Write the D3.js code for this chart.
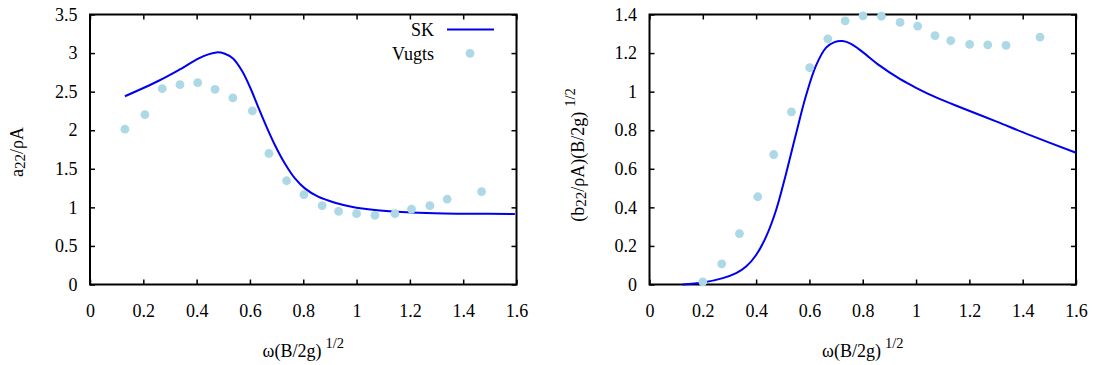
<!DOCTYPE html>
<html>
<head>
<meta charset="utf-8">
<script src="https://cdn.jsdelivr.net/npm/d3@7"></script>
<style>
  html, body { margin: 0; padding: 0; background: #fff; }
  svg text { font-family: "Liberation Serif", "Times New Roman", serif; fill: #000; }
</style>
</head>
<body>
<svg id="chart" width="1095" height="365"></svg>
<script>
// Added mass a22/ρA — SK strip theory curve
const a22SkX = [0.131, 0.256, 0.331, 0.406, 0.444, 0.475, 0.506, 0.5375, 0.569, 0.600, 0.631, 0.6625, 0.694, 0.731, 0.769, 0.806, 0.856, 0.919, 0.981, 1.069, 1.169, 1.294, 1.419, 1.594];
const a22SkY = [2.44, 2.638, 2.776, 2.927, 2.983, 3.009, 2.991, 2.927, 2.776, 2.56, 2.30, 2.043, 1.806, 1.569, 1.375, 1.246, 1.138, 1.06, 1.009, 0.966, 0.94, 0.922, 0.918, 0.914];
// Added mass — Vugts experiments
const a22VugtsX = [0.131, 0.206, 0.271, 0.3375, 0.404, 0.469, 0.536, 0.609, 0.671, 0.7375, 0.8025, 0.871, 0.9325, 1.0, 1.069, 1.144, 1.206, 1.275, 1.34, 1.469];
const a22VugtsY = [2.013, 2.203, 2.539, 2.59, 2.616, 2.53, 2.418, 2.25, 1.698, 1.345, 1.164, 1.022, 0.948, 0.918, 0.897, 0.918, 0.978, 1.022, 1.108, 1.203];

// Damping (b22/ρA)(B/2g)^1/2 — SK curve
const b22SkX = [0.125, 0.2, 0.275, 0.325, 0.3625, 0.4, 0.4375, 0.475, 0.5125, 0.55, 0.5875, 0.625, 0.6625, 0.694, 0.725, 0.756, 0.8, 0.8625, 0.9375, 1.0, 1.075, 1.175, 1.3, 1.425, 1.6];
const b22SkY = [0.0, 0.01, 0.033, 0.059, 0.093, 0.153, 0.248, 0.386, 0.576, 0.783, 0.981, 1.136, 1.228, 1.257, 1.262, 1.248, 1.205, 1.136, 1.067, 1.020, 0.970, 0.914, 0.846, 0.776, 0.683];
// Damping — Vugts experiments
const b22VugtsX = [0.2, 0.271, 0.3375, 0.406, 0.466, 0.5325, 0.601, 0.669, 0.734, 0.801, 0.87, 0.94, 1.006, 1.071, 1.13, 1.201, 1.269, 1.3375, 1.465];
const b22VugtsY = [0.014, 0.107, 0.264, 0.455, 0.674, 0.895, 1.124, 1.274, 1.367, 1.393, 1.391, 1.359, 1.34, 1.29, 1.264, 1.245, 1.243, 1.24, 1.283];

// Tick values
const xTicks = [0, 0.2, 0.4, 0.6, 0.8, 1.0, 1.2, 1.4, 1.6];
const yTicksA = [0, 0.5, 1, 1.5, 2, 2.5, 3, 3.5];
const yTicksB = [0, 0.2, 0.4, 0.6, 0.8, 1.0, 1.2, 1.4];

const lineColor = "#0000f0";
const dotColor = "#add8e6";
const fontSize = 18;
const serif = "Liberation Serif, Times New Roman, serif";

const svg = d3.select("#chart");
const fmt = d => d3.format("~g")(+d.toFixed(2));

function panel(opts) {
  const { left, right, top, bottom, yMax, yTicks, skX, skY, vX, vY } = opts;
  const x = d3.scaleLinear().domain([0, 1.6]).range([left, right]);
  const y = d3.scaleLinear().domain([0, yMax]).range([bottom, top]);
  const g = svg.append("g");

  const styleAxis = sel => {
    sel.attr("font-family", serif).attr("font-size", fontSize);
    sel.select(".domain").remove();
    sel.selectAll(".tick line").attr("stroke", "#000").attr("stroke-width", 1.5);
  };

  // bottom axis with labels, mirrored ticks on top
  g.append("g").attr("transform", `translate(0,${bottom})`)
    .call(d3.axisBottom(x).tickValues(xTicks).tickFormat(fmt).tickSizeInner(-5).tickSizeOuter(0).tickPadding(20))
    .call(styleAxis);
  g.append("g").attr("transform", `translate(0,${top})`)
    .call(d3.axisTop(x).tickValues(xTicks).tickFormat("").tickSizeInner(-5).tickSizeOuter(0))
    .call(styleAxis);
  // left axis with labels, mirrored ticks on right
  g.append("g").attr("transform", `translate(${left},0)`)
    .call(d3.axisLeft(y).tickValues(yTicks).tickFormat(fmt).tickSizeInner(-5).tickSizeOuter(0).tickPadding(12.5))
    .call(styleAxis);
  g.append("g").attr("transform", `translate(${right},0)`)
    .call(d3.axisRight(y).tickValues(yTicks).tickFormat("").tickSizeInner(-5).tickSizeOuter(0))
    .call(styleAxis);

  // frame
  g.append("rect")
    .attr("x", left).attr("y", top)
    .attr("width", right - left).attr("height", bottom - top)
    .attr("fill", "none").attr("stroke", "#000").attr("stroke-width", 2);

  // SK curve
  const sk = skX.map((v, i) => [v, skY[i]]);
  g.append("path")
    .datum(sk)
    .attr("fill", "none")
    .attr("stroke", lineColor)
    .attr("stroke-width", 2)
    .attr("d", d3.line().x(d => x(d[0])).y(d => y(d[1])).curve(d3.curveCatmullRom.alpha(0.5)));

  // Vugts measurements
  const pts = vX.map((v, i) => [v, vY[i]]);
  g.selectAll("circle.v").data(pts).join("circle")
    .attr("class", "v")
    .attr("cx", d => x(d[0])).attr("cy", d => y(d[1]))
    .attr("r", 4.4).attr("fill", dotColor);

  // x-axis title: ω(B/2g)^1/2
  const xt = g.append("text")
    .attr("x", (left + right) / 2).attr("y", 357)
    .attr("text-anchor", "middle")
    .style("font-size", fontSize + "px");
  xt.append("tspan").text("ω(B/2g)");
  xt.append("tspan").attr("dx", 4).attr("dy", -9).style("font-size", "14.5px").text("1/2");

  return { x, y, g };
}

const pA = panel({ left: 90, right: 516.5, top: 14.5, bottom: 284.5, yMax: 3.5, yTicks: yTicksA,
  skX: a22SkX, skY: a22SkY, vX: a22VugtsX, vY: a22VugtsY });
const pB = panel({ left: 649.5, right: 1076, top: 14.5, bottom: 284.5, yMax: 1.4, yTicks: yTicksB,
  skX: b22SkX, skY: b22SkY, vX: b22VugtsX, vY: b22VugtsY });

// y-axis titles
const ytA = svg.append("text")
  .attr("transform", "translate(23,152) rotate(-90)")
  .attr("text-anchor", "middle")
  .style("font-size", fontSize + "px");
ytA.append("tspan").text("a");
ytA.append("tspan").attr("dy", 2).style("font-size", "15px").text("22");
ytA.append("tspan").attr("dy", -2).text("/ρA");

const ytB = svg.append("text")
  .attr("transform", "translate(584,155) rotate(-90)")
  .attr("text-anchor", "middle")
  .style("font-size", fontSize + "px");
ytB.append("tspan").text("(b");
ytB.append("tspan").attr("dy", 2).style("font-size", "15px").text("22");
ytB.append("tspan").attr("dy", -2).text("/ρA)(B/2g)");
ytB.append("tspan").attr("dx", 5).attr("dy", -9).style("font-size", "14.5px").text("1/2");

// legend (left panel)
const lg = pA.g.append("g");
lg.append("text").attr("x", 434).attr("y", 36).attr("text-anchor", "end")
  .style("font-size", fontSize + "px").text("SK");
lg.append("line").attr("x1", 447).attr("x2", 494).attr("y1", 29.5).attr("y2", 29.5)
  .attr("stroke", lineColor).attr("stroke-width", 2);
lg.append("text").attr("x", 434).attr("y", 59.5).attr("text-anchor", "end")
  .style("font-size", fontSize + "px").text("Vugts");
lg.append("circle").attr("cx", 470).attr("cy", 53.3).attr("r", 4.4).attr("fill", dotColor);
</script>
</body>
</html>
